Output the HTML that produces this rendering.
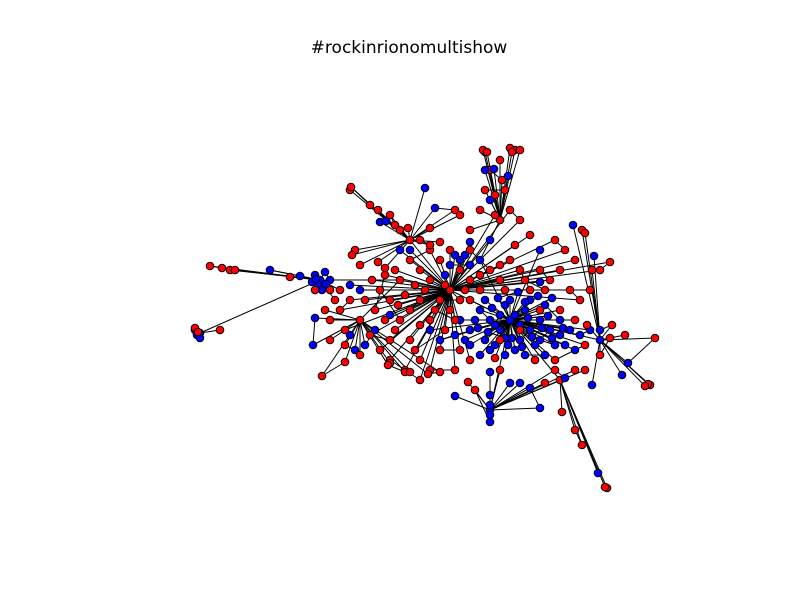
<!DOCTYPE html>
<html><head><meta charset="utf-8"><style>
html,body{margin:0;padding:0;background:#fff;}
svg{display:block;}
</style></head><body>
<svg id="chart" width="800" height="600" viewBox="0 0 800 600" xmlns="http://www.w3.org/2000/svg">
<rect width="800" height="600" fill="#fff"/>
<text x="409" y="53" text-anchor="middle" font-family="DejaVu Sans, sans-serif" font-size="17" fill="#000">#rockinrionomultishow</text>
<g id="edges"></g>
<g id="nodes"></g>
</svg>
<script>
// hubs: [x, y, type(0 red,1 blue), parentIndex]
const hubs = [
[510,320,1,-1],[450,290,0,0],[400,280,0,1],[320,280,1,2],[200,333,1,3],
[480,260,1,0],[500,220,0,5],[485,152,0,6],[515,150,0,6],[540,250,1,0],
[360,320,0,2],[420,360,0,1],[560,380,0,0],[607,488,0,12],[600,340,1,0],
[410,240,0,1],[350,190,0,15],[230,270,0,3],[650,385,0,14],[490,410,1,0]
];
const coreBlue = [[480,310],[490,320],[500,330],[520,340],[530,330],[540,320],[550,330],[535,345],[515,350],[495,345],[505,305],[525,310],[545,305],[560,320],[470,330],[485,340],[500,315],[520,325],[540,340],[555,345],[510,300],[530,300],[475,320],[465,340],[560,335],[490,350],[505,355],[525,355],[545,355],[570,330],[580,335],[590,330],[575,350],[455,335],[440,340],[430,330],[498,298],[518,292],[538,296],[485,300],[470,345],[512,338],[528,318],[548,316],[565,345],[480,355],[460,320],[552,298],[495,325],[508,345],[522,347],[532,337],[542,328],[515,315],[505,338],[488,332],[478,328],[492,308],[552,338],[563,328],[525,302]];
const coreRed = [[520,330],[500,340],[540,310],[470,300],[560,310],[575,320],[495,358],[535,360],[555,360],[585,345]];
const midRed = [[430,280],[440,300],[460,300],[470,280],[420,300],[410,310],[390,300],[380,290],[400,320],[430,320],[450,310],[460,270],[440,260],[420,270],[480,290],[500,280],[520,270],[530,290],[510,260],[490,270],[470,250],[450,250],[430,250],[410,260],[395,270],[385,275],[375,310],[365,300],[350,300],[340,310],[345,330],[370,335],[390,340],[410,340],[440,350],[460,350],[470,360],[455,370],[430,370],[405,370],[420,380],[390,360],[380,350],[540,270],[550,280],[560,270],[570,290],[580,300],[590,290],[600,270],[610,262],[575,260],[565,250],[555,240],[530,235],[520,220],[510,210],[495,215],[515,245],[425,290],[445,285],[465,290],[405,295],[415,285],[435,310],[455,320],[395,330],[420,325],[480,275],[500,265],[525,280],[545,290],[505,290],[385,320],[372,280],[398,305],[445,330],[415,350]];
const midBlue = [[460,260],[450,265],[470,265],[400,250],[410,250],[360,290],[350,285],[390,315],[455,255],[465,255],[445,275],[490,240],[470,242],[540,282]];
const leftBlue = [[315,275],[318,285],[325,272],[330,280],[322,290],[312,282],[316,279],[326,284],[270,270],[300,276]];
const leftRed = [[315,290],[330,290],[290,277],[235,270],[222,268],[210,266],[340,290],[335,300]];
const farLeft = [[195,330,1],[197,335,1],[200,338,1],[195,328,0],[220,330,0],[198,332,0]];
const topNodes = [[483,150,0],[487,152,0],[510,148,0],[520,150,0],[512,152,0],[490,170,0],[502,180,0],[495,195,0],[505,190,0],[485,190,0],[480,210,0],[470,230,0],[485,170,1],[494,169,1],[490,200,1],[500,160,0],[508,176,1]];
const upLeft = [[351,187,0],[370,205,0],[378,210,0],[390,215,0],[395,225,0],[400,230,0],[380,222,1],[386,221,1],[408,228,0],[420,240,0],[430,245,0],[425,188,1],[435,208,1],[455,210,0],[460,215,0],[355,250,0],[352,255,0],[360,265,0],[378,262,0],[385,268,0],[430,228,0],[440,242,0]];
const lowLeft = [[325,310,0],[330,320,0],[315,318,1],[313,345,1],[330,340,0],[345,345,0],[355,350,1],[360,355,0],[345,362,0],[322,376,0],[390,363,0],[388,365,0],[405,372,0],[410,372,0],[428,374,0],[440,372,0],[350,335,1],[365,345,1],[375,330,1]];
const bottom = [[490,372,1],[490,395,1],[490,405,1],[490,415,1],[490,422,1],[475,390,0],[455,396,1],[468,382,0],[510,383,1],[520,383,1],[530,388,1],[540,408,1],[545,383,0],[555,370,0],[565,378,1],[575,370,0],[585,370,0],[500,370,0]];
const tail = [[562,412,0],[575,430,0],[582,445,0],[598,473,1],[605,487,0]];
const right = [[594,256,1],[573,225,1],[582,230,0],[585,233,0],[592,270,0],[600,330,1],[612,325,0],[625,335,0],[655,338,0],[628,363,1],[622,375,1],[648,384,0],[645,386,0],[592,385,1],[600,355,0],[610,338,0],[587,325,0]];

const nodes = hubs.map(h => h.slice());
const groupStart = [];
function addGroup(arr, hub, type){ groupStart.push(nodes.length); arr.forEach(p => nodes.push([p[0], p[1], p.length > 2 ? p[2] : type, hub])); }
addGroup(coreBlue,0,1); addGroup(coreRed,0,0);
addGroup(midRed,1,0); addGroup(midBlue,1,1);
addGroup(leftBlue,3,1); addGroup(leftRed,3,0);
addGroup(farLeft,4,0); addGroup(topNodes,6,0);
addGroup(upLeft,15,0); addGroup(lowLeft,10,0);
addGroup(bottom,19,0); addGroup(tail,12,0); addGroup(right,14,0);

const X = v => v * 800 / 800;
const Y = v => v * 600 / 600;
const NS = 'http://www.w3.org/2000/svg';
const eg = document.getElementById('edges');
const ng = document.getElementById('nodes');
function edge(a, b){
  const l = document.createElementNS(NS, 'line');
  l.setAttribute('x1', X(a[0])); l.setAttribute('y1', Y(a[1]));
  l.setAttribute('x2', X(b[0])); l.setAttribute('y2', Y(b[1]));
  l.setAttribute('stroke', '#000'); l.setAttribute('stroke-width', '1');
  
  
  eg.appendChild(l);
}
nodes.forEach((n, i) => {
  if (n[3] >= 0) edge(n, nodes[n[3]]);
  if (i > hubs.length && groupStart.indexOf(i) < 0 && i % 3 === 0) {
    const prev = nodes[i - 1];
    if (Math.hypot(prev[0]-n[0], prev[1]-n[1]) < 40) edge(n, prev);
  }
});
nodes.forEach(n => {
  const c = document.createElementNS(NS, 'circle');
  c.setAttribute('cx', X(n[0])); c.setAttribute('cy', Y(n[1])); c.setAttribute('r', '3.8');
  c.setAttribute('fill', n[2] ? '#0000ff' : '#ff0000');
  c.setAttribute('stroke', '#000'); c.setAttribute('stroke-width', '1');
  
  
  ng.appendChild(c);
});
</script>
</body></html>
